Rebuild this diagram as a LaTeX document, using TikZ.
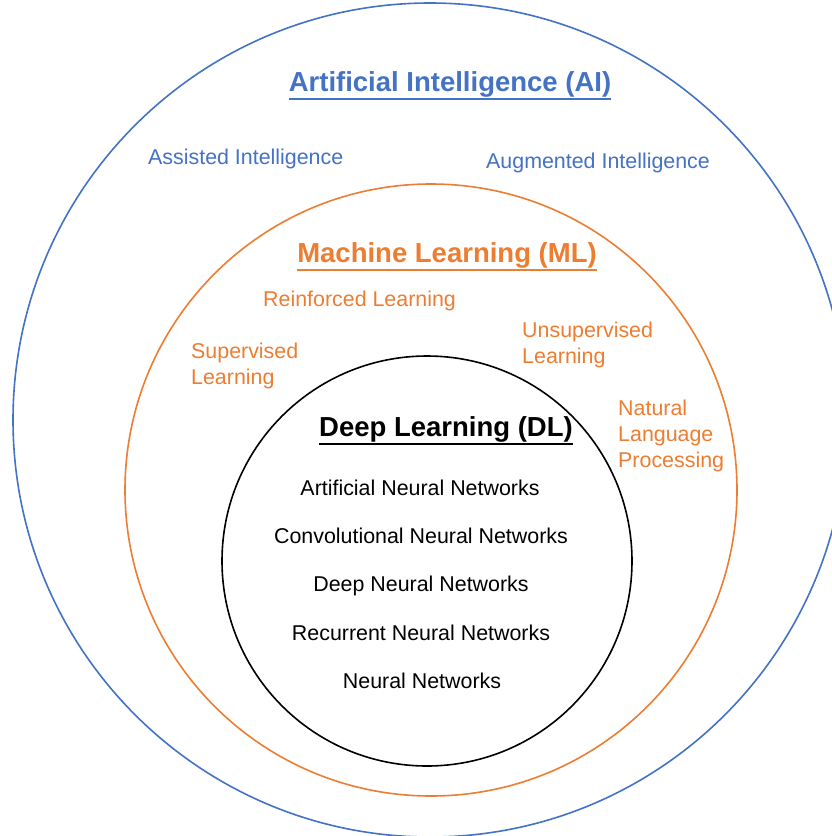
\documentclass[tikz,border=0pt]{standalone}
\usepackage{fontspec}
\setmainfont{Liberation Sans}
\definecolor{aiblue}{HTML}{4472C4}
\definecolor{mlorange}{HTML}{ED7D31}
\tikzset{
  ring/.style={line width=1.6pt},
  title/.style={font=\fontsize{27.5}{32}\selectfont\bfseries, inner sep=0pt, anchor=base},
  item/.style={font=\fontsize{21.4}{26}\selectfont, inner sep=0pt},
  uline/.style={line width=2.2pt}
}
\begin{document}
\begin{tikzpicture}[x=1pt,y=-1pt]
\useasboundingbox (0,0) rectangle (832,836);
\clip (0,0) rectangle (832,836);
\fill[white] (0,0) rectangle (832,836);
% circles
\draw[ring, aiblue] (430,420) circle[radius=417];
\draw[ring, mlorange] (431,490) circle[radius=306];
\draw[ring, black] (427,561) circle[radius=205];
% AI
\node[title, text=aiblue] (ai) at (450,91) {Artificial Intelligence (AI)};
\draw[uline, aiblue] ([yshift=-2]ai.south west) -- ([yshift=-2]ai.south east);
\node[item, text=aiblue, anchor=base west] (assist) at (148,164) {Assisted Intelligence};
\node[item, text=aiblue, anchor=base west] (augment) at (486,168) {Augmented Intelligence};
% ML
\node[title, text=mlorange] (ml) at (447,262) {Machine Learning (ML)};
\draw[uline, mlorange] ([yshift=-2]ml.south west) -- ([yshift=-2]ml.south east);
\node[item, text=mlorange, anchor=base west] (reinf) at (263,306) {Reinforced Learning};
\node[item, text=mlorange, anchor=base west, align=left] (sup) at (191,384) {Supervised\\Learning};
\node[item, text=mlorange, anchor=base west, align=left] (unsup) at (522,363) {Unsupervised\\Learning};
\node[item, text=mlorange, anchor=base west, align=left] (nlp) at (618,467) {Natural\\Language\\Processing};
% DL
\node[title, text=black] (dl) at (446,436) {Deep Learning (DL)};
\draw[uline, black] ([yshift=-2]dl.south west) -- ([yshift=-2]dl.south east);
\node[item, anchor=base] (ann) at (420,495) {Artificial Neural Networks};
\node[item, anchor=base] (cnn) at (421,543) {Convolutional Neural Networks};
\node[item, anchor=base] (dnn) at (421,591) {Deep Neural Networks};
\node[item, anchor=base] (rnn) at (421,640) {Recurrent Neural Networks};
\node[item, anchor=base] (nn) at (422,688) {Neural Networks};
\end{tikzpicture}
\end{document}
